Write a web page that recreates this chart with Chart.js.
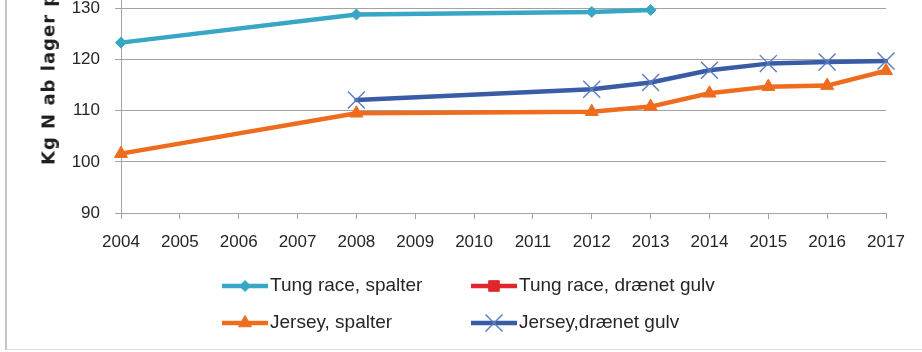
<!DOCTYPE html>
<html>
<head>
<meta charset="utf-8">
<script src="https://cdn.jsdelivr.net/npm/chart.js@4/dist/chart.umd.min.js"></script>
<style>
  html, body { margin: 0; padding: 0; background: #fff; }
  #frame { position: relative; width: 922px; height: 352px; overflow: hidden; background: #fff; }
  #box { position: absolute; left: 5px; top: 0; width: 917px; height: 350px;
         border-left: 2px solid #c6c6c6; border-bottom: 1px solid #dcdcdc; box-sizing: border-box; }
  #chart { position: absolute; left: 0; top: -68px; }
  #ytitle { position: absolute; left: 48px; top: 165px; transform-origin: 0 0;
            transform: rotate(-90deg) translateY(-50%); white-space: nowrap; letter-spacing: 1px;
            font: bold 18px "DejaVu Sans", sans-serif; color: #1e1e1e; }
</style>
</head>
<body>
<div id="frame">
  <div id="box"></div>
  <canvas id="chart" width="922" height="420"></canvas>
  <div id="ytitle">Kg N ab lager pr. årsko</div>
</div>
<script>
// Years on the x axis
const years = ['2004', '2005', '2006', '2007', '2008', '2009', '2010',
               '2011', '2012', '2013', '2014', '2015', '2016', '2017'];

// Series names
const seriesNames = ['Tung race, spalter', 'Tung race, drænet gulv',
                     'Jersey, spalter', 'Jersey,drænet gulv'];

// Kg N ab lager per year (null = no value that year)
const tungSpalter   = [123.3, null, null, null, 128.8, null, null, null, 129.3, 129.7, null, null, null, null];
const tungDraenet   = [null, null, null, null, null, null, null, null, null, null, null, null, null, null];
const jerseySpalter = [101.6, null, null, null, 109.5, null, null, null, 109.8, 110.8, 113.4, 114.7, 114.9, 117.8];
const jerseyDraenet = [null, null, null, null, 112.1, null, null, null, 114.2, 115.5, 117.9, 119.2, 119.5, 119.7];

// y axis range and step
const yMin = 90, yMax = 140, yStep = 10;

const gridColor = '#a3a3a3';
const textColor = '#262626';

Chart.defaults.font.family = '"Liberation Sans", Arial, sans-serif';
Chart.defaults.font.size = 17;
Chart.defaults.color = textColor;

function lineSeries(label, data, color, pointColor, style, radius, pointBorder) {
  return {
    label, data,
    borderColor: color, backgroundColor: color,
    pointBackgroundColor: pointColor, pointBorderColor: pointColor,
    pointStyle: style, pointRadius: radius, pointBorderWidth: pointBorder,
    borderWidth: 4.5, spanGaps: true, tension: 0,
    borderJoinStyle: 'round', borderCapStyle: 'round'
  };
}

// Two-column legend drawn under the axis, line sample with marker in the middle
const gridLegend = {
  id: 'gridLegend',
  afterDraw(chart, args, o) {
    const ctx = chart.ctx;
    chart.data.datasets.forEach((ds, i) => {
      const col = i % 2, row = Math.floor(i / 2);
      const x0 = o.left + col * o.colWidth;
      const y = o.top + row * o.rowHeight;
      ctx.save();
      ctx.strokeStyle = ds.borderColor;
      ctx.lineWidth = ds.borderWidth;
      ctx.lineCap = 'butt';
      ctx.beginPath();
      ctx.moveTo(x0, y);
      ctx.lineTo(x0 + o.sample, y);
      ctx.stroke();
      ctx.fillStyle = ds.pointBackgroundColor;
      ctx.strokeStyle = ds.pointBorderColor;
      ctx.lineWidth = ds.pointBorderWidth;
      Chart.helpers.drawPoint(ctx, {
        pointStyle: ds.pointStyle, radius: ds.pointRadius,
        rotation: 0, borderWidth: ds.pointBorderWidth
      }, x0 + o.sample / 2, y);
      ctx.fillStyle = o.color;
      ctx.font = o.font;
      ctx.textBaseline = 'middle';
      ctx.textAlign = 'left';
      ctx.fillText(ds.label, x0 + o.sample + o.gap, y);
      ctx.restore();
    });
  }
};

new Chart(document.getElementById('chart'), {
  type: 'line',
  data: {
    labels: years,
    datasets: [
      lineSeries(seriesNames[0], tungSpalter,   '#38a7c5', '#38a7c5', 'rectRot', 5.5, 1),
      lineSeries(seriesNames[1], tungDraenet,   '#e1262d', '#e1262d', 'rect', 7.5, 1),
      lineSeries(seriesNames[2], jerseySpalter, '#ef6c1f', '#ef6c1f', 'triangle', 7.5, 1),
      lineSeries(seriesNames[3], jerseyDraenet, '#3a5ba6', '#5a7cc0', 'crossRot', 12, 1.4)
    ]
  },
  options: {
    responsive: false,
    animation: false,
    events: [],
    layout: { padding: { top: 0, left: 0, right: 36, bottom: 100 } },
    plugins: {
      legend: { display: false },
      tooltip: { enabled: false },
      gridLegend: {
        left: 222, top: 354, colWidth: 249, rowHeight: 37, sample: 46, gap: 2,
        font: '19px "Liberation Sans", Arial, sans-serif', color: textColor
      }
    },
    scales: {
      x: {
        type: 'category',
        offset: false,
        grid: { drawOnChartArea: false, drawTicks: true, tickLength: 6, color: gridColor },
        border: { color: gridColor },
        ticks: { padding: 13, maxRotation: 0, autoSkip: false, color: textColor },
        afterFit(scale) { scale.height = 39; }
      },
      y: {
        min: yMin, max: yMax,
        ticks: { stepSize: yStep, padding: 15, color: textColor },
        grid: { color: gridColor, tickLength: 6 },
        border: { color: gridColor },
        afterFit(scale) { scale.width = 121; }
      }
    }
  },
  plugins: [gridLegend]
});
</script>
</body>
</html>
